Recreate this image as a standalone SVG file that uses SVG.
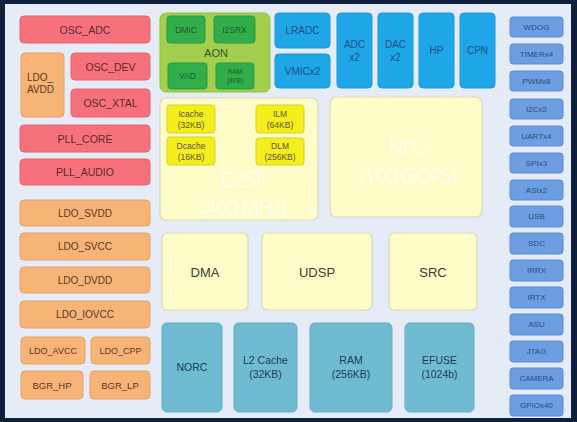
<svg xmlns="http://www.w3.org/2000/svg" width="577" height="422" viewBox="0 0 577 422">
<style>
text{font-family:"Liberation Sans",Arial,sans-serif;text-anchor:middle;dominant-baseline:central}
.red rect{fill:#f6717b;stroke:#e2646e;stroke-width:1}
.red text{fill:#5b2a2e;font-size:10.5px}
.org rect{fill:#f8b377;stroke:#e3a266;stroke-width:1}
.org text{fill:#5a3a22;font-size:10px}
.blu rect{fill:#1fa6e6;stroke:#1a98d6;stroke-width:1}
.blu text{fill:#1d4f86;font-size:10px}
.per rect{fill:#6c9ee1;stroke:#5b8bd2;stroke-width:1}
.per text{fill:#2c4a7c;font-size:8px}
.grn rect{fill:#32ad4b;stroke:#2a9a40;stroke-width:1}
.grn text{fill:#1d5a2e;font-size:8.5px}
.ylw rect{fill:#fefdc9;stroke:#d9d8b6;stroke-width:1.2}
.ylw text{fill:#3c3c2c;font-size:13px}
.cch rect{fill:#f4ee1e;stroke:#d9cf2a;stroke-width:1}
.cch text{fill:#5a5520;font-size:8.5px}
.tea rect{fill:#6fbbd1;stroke:#62adc3;stroke-width:1}
.tea text{fill:#1f3d55;font-size:10.5px}
.ylw text.big{fill:#ffffff;font-family:"Open Sans","Liberation Sans",sans-serif;font-weight:300;font-size:21px;letter-spacing:-1.2px}
</style>
<rect x="0" y="0" width="577" height="422" fill="#0e1f3b"/>
<rect x="5" y="4" width="566" height="414" fill="#e6ecf7"/>
<g id="connectors"/>

<g class="red">
<g id="osc_adc"><rect x="20" y="16" width="130" height="27" rx="4"/><text x="85" y="29.5">OSC_ADC</text></g>
<g id="osc_dev"><rect x="71" y="53" width="79" height="27" rx="4"/><text x="110.5" y="66.5">OSC_DEV</text></g>
<g id="osc_xtal"><rect x="71" y="89" width="79" height="28" rx="4"/><text x="110.5" y="103">OSC_XTAL</text></g>
<g id="pll_core"><rect x="20" y="125" width="130" height="27" rx="4"/><text x="85" y="138.5">PLL_CORE</text></g>
<g id="pll_audio"><rect x="20" y="159" width="130" height="26" rx="4"/><text x="85" y="172">PLL_AUDIO</text></g>
</g>

<g class="org">
<g id="ldo_avdd"><rect x="21" y="53" width="43" height="64" rx="4"/><text x="27" y="77" style="text-anchor:start">LDO_</text><text x="27" y="89" style="text-anchor:start">AVDD</text></g>
<g id="ldo_svdd"><rect x="20" y="200" width="130" height="26" rx="4"/><text x="85" y="213">LDO_SVDD</text></g>
<g id="ldo_svcc"><rect x="20" y="233" width="130" height="27" rx="4"/><text x="85" y="246.5">LDO_SVCC</text></g>
<g id="ldo_dvdd"><rect x="20" y="267" width="130" height="26" rx="4"/><text x="85" y="280">LDO_DVDD</text></g>
<g id="ldo_iovcc"><rect x="20" y="301" width="130" height="27" rx="4"/><text x="85" y="314.5">LDO_IOVCC</text></g>
<g id="ldo_avcc"><rect x="21" y="337" width="64" height="27" rx="4"/><text x="53" y="350.5" style="font-size:9px">LDO_AVCC</text></g>
<g id="ldo_cpp"><rect x="91" y="337" width="59" height="27" rx="4"/><text x="120.5" y="350.5" style="font-size:9px">LDO_CPP</text></g>
<g id="bgr_hp"><rect x="21" y="371" width="62" height="28" rx="4"/><text x="52" y="385" style="font-size:9.5px">BGR_HP</text></g>
<g id="bgr_lp"><rect x="90" y="371" width="60" height="28" rx="4"/><text x="120" y="385" style="font-size:9.5px">BGR_LP</text></g>
</g>

<g id="aon">
<rect x="160" y="13" width="110" height="79" rx="6" fill="#a4cf4e" stroke="#93bf44"/>
<text x="216" y="53" style="fill:#2c5a1e;font-size:11px">AON</text>
<g class="grn">
<g id="dmic"><rect x="167" y="16" width="38" height="27" rx="3"/><text x="186" y="29.5">DMIC</text></g>
<g id="i2srx"><rect x="214" y="16" width="41" height="27" rx="3"/><text x="234.5" y="29.5">I2SRX</text></g>
<g id="vad"><rect x="168" y="63" width="39" height="26" rx="3"/><text x="187.5" y="76">VAD</text></g>
<g id="ram8"><rect x="216" y="63" width="38" height="26" rx="3"/><text x="235" y="71.5" style="font-size:6.5px">RAM</text><text x="235" y="80.5" style="font-size:6.5px">(8KB)</text></g>
</g>
</g>

<g class="blu">
<g id="lradc"><rect x="275" y="13" width="55" height="35" rx="4"/><text x="302.5" y="30.5">LRADC</text></g>
<g id="vmic"><rect x="275" y="54" width="55" height="34" rx="4"/><text x="302.5" y="71">VMICx2</text></g>
<g id="adc"><rect x="337" y="13" width="35" height="75" rx="4"/><text x="354.5" y="44">ADC</text><text x="354.5" y="57">x2</text></g>
<g id="dac"><rect x="378" y="13" width="35" height="75" rx="4"/><text x="395.5" y="44">DAC</text><text x="395.5" y="57">x2</text></g>
<g id="hp"><rect x="419" y="13" width="35" height="75" rx="4"/><text x="436.5" y="50.5">HP</text></g>
<g id="cpn"><rect x="460" y="13" width="35" height="75" rx="4"/><text x="477.5" y="50.5">CPN</text></g>
</g>

<g class="per">
<g id="wdog"><rect x="510" y="17" width="53" height="20" rx="3"/><text x="536.5" y="27">WDOG</text></g>
<g id="timer"><rect x="510" y="44" width="53" height="20" rx="3"/><text x="536.5" y="54">TIMERx4</text></g>
<g id="pwm"><rect x="510" y="71" width="53" height="20" rx="3"/><text x="536.5" y="81">PWMx8</text></g>
<g id="i2c"><rect x="510" y="99" width="53" height="20" rx="3"/><text x="536.5" y="109">I2Cx2</text></g>
<g id="uart"><rect x="510" y="126" width="53" height="20" rx="3"/><text x="536.5" y="136">UARTx4</text></g>
<g id="spi"><rect x="510" y="153" width="53" height="20" rx="3"/><text x="536.5" y="163">SPIx3</text></g>
<g id="asi"><rect x="510" y="180" width="53" height="20" rx="3"/><text x="536.5" y="190">ASIx2</text></g>
<g id="usb"><rect x="510" y="206" width="53" height="21" rx="3"/><text x="536.5" y="216.5">USB</text></g>
<g id="sdc"><rect x="510" y="233" width="53" height="21" rx="3"/><text x="536.5" y="243.5">SDC</text></g>
<g id="irrx"><rect x="510" y="260" width="53" height="21" rx="3"/><text x="536.5" y="270.5">IRRX</text></g>
<g id="irtx"><rect x="510" y="287" width="53" height="21" rx="3"/><text x="536.5" y="297.5">IRTX</text></g>
<g id="asu"><rect x="510" y="314" width="53" height="21" rx="3"/><text x="536.5" y="324.5">ASU</text></g>
<g id="jtag"><rect x="510" y="341" width="53" height="21" rx="3"/><text x="536.5" y="351.5">JTAG</text></g>
<g id="camera"><rect x="510" y="368" width="53" height="21" rx="3"/><text x="536.5" y="378.5">CAMERA</text></g>
<g id="gpio"><rect x="510" y="395" width="53" height="21" rx="3"/><text x="536.5" y="405.5">GPIOx40</text></g>
</g>

<g class="ylw">
<g id="d25f"><rect x="160" y="98" width="158" height="122" rx="6"/>
<text class="big" x="243" y="179">D25F</text><text class="big" x="243" y="207">(400 MHz)</text></g>
<g id="npu"><rect x="330" y="97" width="152" height="120" rx="6"/>
<text class="big" x="408" y="147">NPU</text><text class="big" x="408" y="175">(100 GOPS)</text></g>
<g id="dma"><rect x="162" y="233" width="86" height="77" rx="5"/><text x="205" y="272">DMA</text></g>
<g id="udsp"><rect x="262" y="233" width="110" height="77" rx="5"/><text x="317" y="272">UDSP</text></g>
<g id="src"><rect x="389" y="233" width="88" height="77" rx="5"/><text x="433" y="272">SRC</text></g>
</g>

<g class="cch">
<g id="icache"><rect x="167" y="105" width="48" height="28" rx="3"/><text x="191" y="113.5">Icache</text><text x="191" y="124.5">(32KB)</text></g>
<g id="ilm"><rect x="256" y="105" width="48" height="28" rx="3"/><text x="280" y="113.5">ILM</text><text x="280" y="124.5">(64KB)</text></g>
<g id="dcache"><rect x="167" y="137" width="48" height="28" rx="3"/><text x="191" y="145.5">Dcache</text><text x="191" y="156.5">(16KB)</text></g>
<g id="dlm"><rect x="256" y="138" width="48" height="27" rx="3"/><text x="280" y="146">DLM</text><text x="280" y="157">(256KB)</text></g>
</g>

<g class="tea">
<g id="norc"><rect x="162" y="323" width="60" height="89" rx="5"/><text x="192" y="367">NORC</text></g>
<g id="l2"><rect x="234" y="323" width="63" height="89" rx="5"/><text x="265.5" y="360">L2 Cache</text><text x="265.5" y="374">(32KB)</text></g>
<g id="ram"><rect x="310" y="323" width="82" height="89" rx="5"/><text x="351" y="360">RAM</text><text x="351" y="374">(256KB)</text></g>
<g id="efuse"><rect x="405" y="323" width="69" height="89" rx="5"/><text x="439.5" y="360">EFUSE</text><text x="439.5" y="374">(1024b)</text></g>
</g>
</svg>
